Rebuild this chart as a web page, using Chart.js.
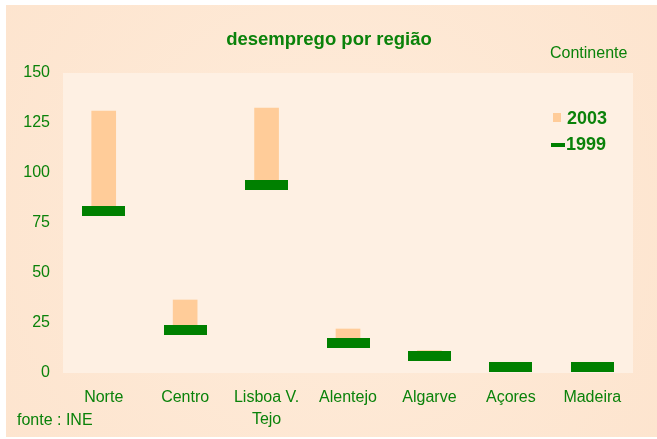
<!DOCTYPE html>
<html>
<head>
<meta charset="utf-8">
<script src="https://cdn.jsdelivr.net/npm/chart.js@4/dist/chart.umd.min.js"></script>
<style>
  html, body { margin: 0; padding: 0; background: #ffffff; }
  #wrap { width: 657px; height: 439px; position: relative; }
</style>
</head>
<body>
<div id="wrap"><canvas id="c" width="657" height="439"></canvas></div>
<script>
const categories = ['Norte', 'Centro', ['Lisboa V.', 'Tejo'], 'Alentejo', 'Algarve', 'Açores', 'Madeira'];
const values2003 = [131, 36.5, 132.5, 22, 11.2, 3, 3];
const values1999 = [81, 21.7, 93.8, 15.2, 8.5, 3, 3];
const yTicks = [0, 25, 50, 75, 100, 125, 150];

const GREEN = '#0a820a';
const ORANGE = '#FFCC99';
const FONT = '"Liberation Sans", Arial, sans-serif';

// marker image for 1999
const marker = document.createElement('canvas');
marker.width = 43; marker.height = 10;
(function(){ const m = marker.getContext('2d'); m.fillStyle = '#008000'; m.fillRect(0,0,43,10); })();

const bgPlugin = {
  id: 'bg',
  beforeDraw(chart) {
    const ctx = chart.ctx, a = chart.chartArea;
    ctx.save();
    ctx.fillStyle = '#ffffff';
    ctx.fillRect(0, 0, chart.width, chart.height);
    const g = ctx.createRadialGradient(330, 220, 50, 330, 220, 420);
    g.addColorStop(0, '#FEEBD9');
    g.addColorStop(1, '#FDE4CE');
    ctx.fillStyle = g;
    ctx.fillRect(6, 5, 651, 432);
    ctx.fillStyle = '#FEF0E3';
    ctx.fillRect(a.left, a.top, a.right - a.left, a.bottom - a.top);
    ctx.restore();
  },
  afterDraw(chart) {
    const ctx = chart.ctx;
    ctx.save();
    ctx.fillStyle = GREEN;
    ctx.textBaseline = 'middle';
    ctx.font = 'bold 18.5px ' + FONT;
    ctx.textAlign = 'center';
    ctx.fillText('desemprego por região', 329, 40);
    ctx.font = '16px ' + FONT;
    ctx.textAlign = 'left';
    ctx.fillText('Continente', 550, 54);
    ctx.fillText('fonte : INE', 17, 421);
    // legend
    ctx.fillStyle = ORANGE;
    ctx.fillRect(553, 113, 8, 9);
    ctx.fillStyle = '#008000';
    ctx.fillRect(551, 143, 14, 4);
    ctx.fillStyle = GREEN;
    ctx.font = 'bold 18px ' + FONT;
    ctx.fillText('2003', 567, 119);
    ctx.fillText('1999', 566, 145);
    ctx.restore();
  }
};

new Chart(document.getElementById('c'), {
  data: {
    labels: categories,
    datasets: [
      {
        type: 'bar',
        label: '2003',
        data: values2003.map((v, i) => [values1999[i], v]),
        backgroundColor: ORANGE,
        borderWidth: 0,
        barThickness: 24,
        grouped: false,
        order: 2
      },
      {
        type: 'line',
        label: '1999',
        data: values1999,
        showLine: false,
        pointStyle: marker,
        pointRadius: 10,
        pointHoverRadius: 10,
        order: 1
      }
    ]
  },
  options: {
    responsive: false,
    animation: false,
    events: [],
    layout: { padding: { left: 6, top: 73, right: 24, bottom: 0 } },
    plugins: { legend: { display: false }, title: { display: false }, tooltip: { enabled: false } },
    scales: {
      x: {
        offset: true,
        grid: { display: false, drawTicks: false },
        border: { display: false },
        ticks: { color: GREEN, font: { family: FONT, size: 16, lineHeight: 1.35 }, padding: 14, maxRotation: 0, autoSkip: false },
        afterFit(s) { s.height = 66; }
      },
      y: {
        min: 0, max: 150,
        afterBuildTicks(s) { s.ticks = yTicks.map(v => ({ value: v })); },
        grid: { display: false, drawTicks: false },
        border: { display: false },
        ticks: { color: GREEN, font: { family: FONT, size: 16 }, padding: 13 },
        afterFit(s) { s.width = 57; }
      }
    }
  },
  plugins: [bgPlugin]
});
</script>
</body>
</html>
